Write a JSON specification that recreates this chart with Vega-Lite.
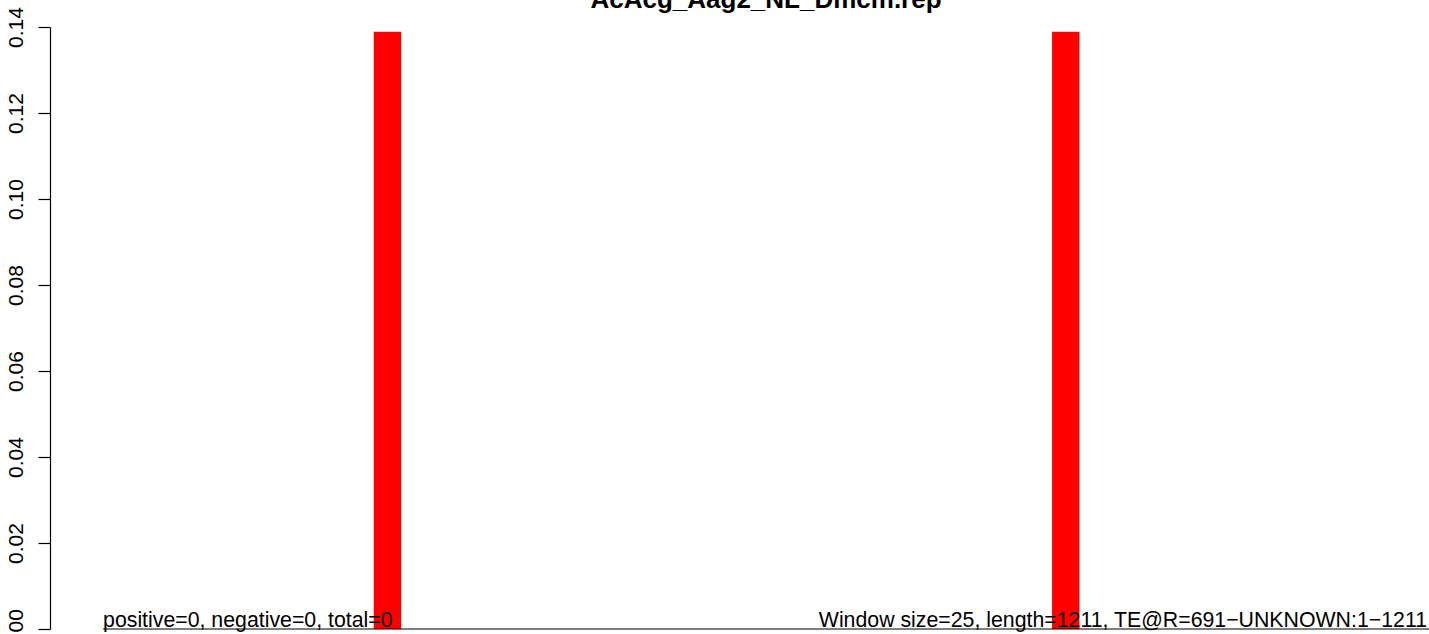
{
  "$schema": "https://vega.github.io/schema/vega-lite/v6.json",
  "autosize": {"type": "none"},
  "padding": {"left": 50, "top": 27, "right": 0, "bottom": 5},
  "width": 1379,
  "height": 602,
  "background": "white",
  "config": {"view": {"stroke": null}, "font": "Liberation Sans"},
  "datasets": {
    "bars": [
      {"start": 248, "end": 273, "value": 0.1389},
      {"start": 867, "end": 892, "value": 0.1389}
    ],
    "base": [{"from": 1, "to": 1211, "level": 0}],
    "heading": [{"pos": 606, "level": 0.14442, "label": "AcAcg_Aag2_NL_Dmcm.rep"}],
    "leftnote": [{"pos": 1, "level": 0, "label": "positive=0, negative=0, total=0"}],
    "rightnote": [{"pos": 1211, "level": 0, "label": "Window size=25, length=1211, TE@R=691−UNKNOWN:1−1211"}]
  },
  "layer": [
    {
      "data": {"name": "bars"},
      "mark": {"type": "rect", "color": "#ff0000"},
      "encoding": {
        "x": {"field": "start", "type": "quantitative", "scale": {"domain": [-47.4, 1211], "nice": false, "zero": false}, "axis": null},
        "x2": {"field": "end"},
        "y": {"field": "value", "type": "quantitative", "scale": {"domain": [0, 0.14], "nice": false, "zero": true},
          "axis": {
            "title": null,
            "values": [0, 0.02, 0.04, 0.06, 0.08, 0.1, 0.12, 0.14],
            "format": ".2f",
            "grid": false,
            "domainColor": "black",
            "domainWidth": 1.2,
            "tickColor": "black",
            "tickWidth": 1.2,
            "tickSize": 12,
            "labelAngle": -90,
            "labelAlign": "center",
            "labelBaseline": "alphabetic",
            "labelPadding": 16,
            "labelFont": "Liberation Sans",
            "labelFontSize": 21,
            "labelColor": "black",
            "labelOverlap": false,
            "labelBound": false,
            "labelFlush": false
          }
        },
        "y2": {"datum": 0}
      }
    },
    {
      "data": {"name": "base"},
      "mark": {"type": "rule", "color": "black", "strokeWidth": 1},
      "encoding": {
        "x": {"field": "from", "type": "quantitative"},
        "x2": {"field": "to"},
        "y": {"field": "level", "type": "quantitative"}
      }
    },
    {
      "data": {"name": "heading"},
      "mark": {"type": "text", "align": "center", "baseline": "alphabetic", "font": "Liberation Sans", "fontSize": 26, "fontWeight": "bold", "color": "black", "clip": false},
      "encoding": {
        "x": {"field": "pos", "type": "quantitative"},
        "y": {"field": "level", "type": "quantitative"},
        "text": {"field": "label"}
      }
    },
    {
      "data": {"name": "leftnote"},
      "mark": {"type": "text", "align": "left", "baseline": "alphabetic", "dy": -2, "font": "Liberation Sans", "fontSize": 21.3, "color": "black"},
      "encoding": {
        "x": {"field": "pos", "type": "quantitative"},
        "y": {"field": "level", "type": "quantitative"},
        "text": {"field": "label"}
      }
    },
    {
      "data": {"name": "rightnote"},
      "mark": {"type": "text", "align": "right", "baseline": "alphabetic", "dy": -2, "dx": -2, "font": "Liberation Sans", "fontSize": 21.3, "color": "black"},
      "encoding": {
        "x": {"field": "pos", "type": "quantitative"},
        "y": {"field": "level", "type": "quantitative"},
        "text": {"field": "label"}
      }
    }
  ]
}
